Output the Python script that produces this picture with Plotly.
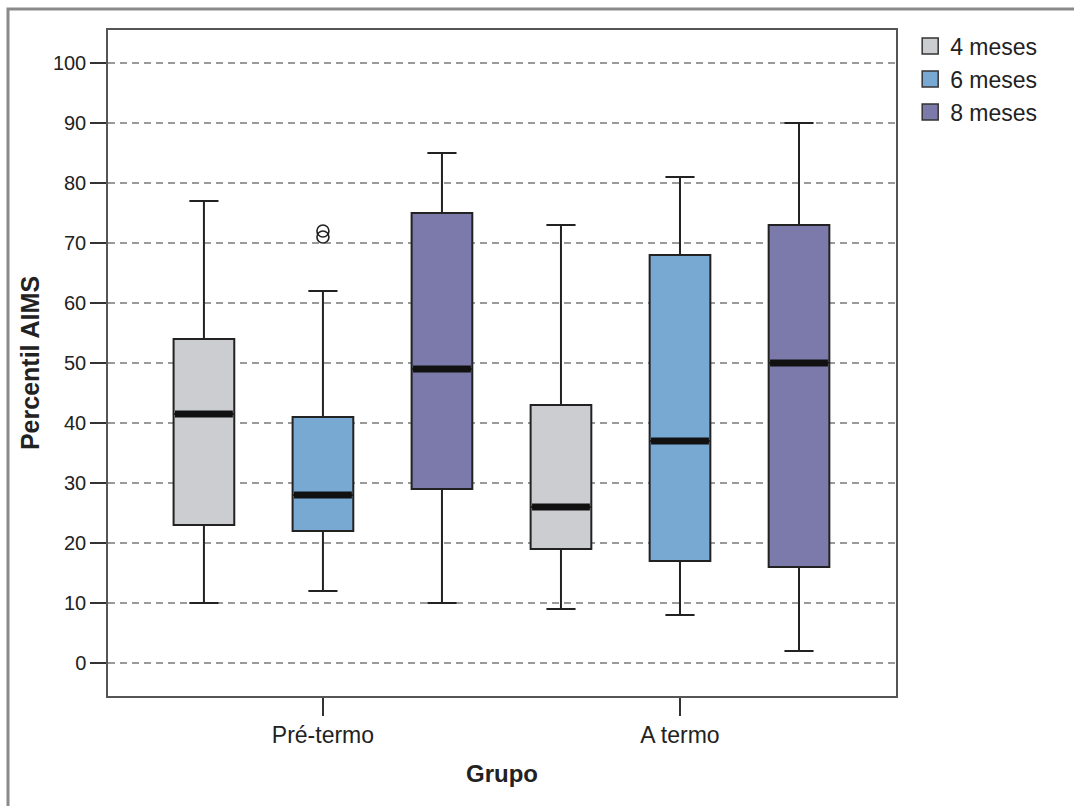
import plotly.graph_objects as go

# ---- data ----
groups = ["Pré-termo", "A termo"]
series = ["4 meses", "6 meses", "8 meses"]
colors = ["#CBCDD0", "#78A9D2", "#7B7AAB"]

# per series: values for [Pré-termo, A termo]
lower = {"4 meses": [10, 9], "6 meses": [12, 8], "8 meses": [10, 2]}
q1 = {"4 meses": [23, 19], "6 meses": [22, 17], "8 meses": [29, 16]}
median = {"4 meses": [41.5, 26], "6 meses": [28, 37], "8 meses": [49, 50]}
q3 = {"4 meses": [54, 43], "6 meses": [41, 68], "8 meses": [75, 73]}
upper = {"4 meses": [77, 73], "6 meses": [62, 81], "8 meses": [85, 90]}
outliers = {"4 meses": [[], []], "6 meses": [[72, 71], []], "8 meses": [[], []]}

y_ticks = list(range(0, 101, 10))

# ---- layout constants ----
offset = 1 / 3
box_w = 0.17
font = "Liberation Sans, Arial, sans-serif"
ink = "#222222"

fig = go.Figure()

med_x, med_y = [], []
out_x, out_y = [], []
for si, s in enumerate(series):
    pos = [gi + (si - 1) * offset for gi in range(len(groups))]
    fig.add_trace(go.Box(
        x=pos, q1=q1[s], median=median[s], q3=q3[s],
        lowerfence=lower[s], upperfence=upper[s],
        width=box_w, whiskerwidth=0.48,
        fillcolor=colors[si], line=dict(color=ink, width=2),
        boxpoints=False, showlegend=False, name=s, hoverinfo="skip",
    ))
    for gi, p in enumerate(pos):
        med_x += [p - box_w / 2 + 0.004, p + box_w / 2 - 0.004, None]
        med_y += [median[s][gi], median[s][gi], None]
        for v in outliers[s][gi]:
            out_x.append(p)
            out_y.append(v)

fig.add_trace(go.Scatter(x=med_x, y=med_y, mode="lines",
                         line=dict(color="#111111", width=7),
                         showlegend=False, hoverinfo="skip"))
fig.add_trace(go.Scatter(x=out_x, y=out_y, mode="markers",
                         marker=dict(symbol="circle-open", size=12,
                                     color=ink, line=dict(width=1.6)),
                         showlegend=False, hoverinfo="skip"))

for si, s in enumerate(series):
    fig.add_trace(go.Scatter(
        x=[None], y=[None], mode="markers", name=s,
        marker=dict(symbol="square", size=16, color=colors[si],
                    line=dict(color="#333333", width=1.5)),
    ))

fig.update_layout(
    width=1074, height=806,
    margin=dict(l=108, r=178, t=30, b=110),
    paper_bgcolor="white", plot_bgcolor="white",
    font=dict(family=font, color=ink, size=20),
    legend=dict(x=1.018, y=1.008, xanchor="left", yanchor="top",
                font=dict(size=23, family=font, color=ink),
                itemsizing="trace", tracegroupgap=0,
                bgcolor="rgba(0,0,0,0)"),
    xaxis=dict(
        range=[-0.602, 1.605], tickmode="array",
        tickvals=list(range(len(groups))), ticktext=groups,
        ticks="outside", ticklen=18, tickwidth=1.5, tickcolor="#333",
        showgrid=False, zeroline=False,
        showline=True, linecolor="#555", linewidth=1.5, mirror=True,
        tickfont=dict(size=23),
        title=dict(text="<b>Grupo</b>", font=dict(size=24), standoff=18),
    ),
    yaxis=dict(
        range=[-5.5, 105.5], tickmode="array", tickvals=y_ticks,
        ticks="outside", ticklen=16, tickwidth=1.5, tickcolor="#333",
        showgrid=True, gridcolor="#9a9a9a", gridwidth=1.5,
        griddash="7px,5px", zeroline=False,
        showline=True, linecolor="#555", linewidth=1.5, mirror=True,
        tickfont=dict(size=20),
        title=dict(text="<b>Percentil AIMS</b>", font=dict(size=25), standoff=6),
    ),
    shapes=[dict(type="rect", xref="paper", yref="paper",
                 x0=-0.1269, x1=2.0, y0=-1.0, y1=1.0315,
                 line=dict(color="#8a8a8a", width=3), layer="below")],
)

fig.write_html("out.html", config={"displayModeBar": False},
               post_script="document.body.style.margin='0';")
